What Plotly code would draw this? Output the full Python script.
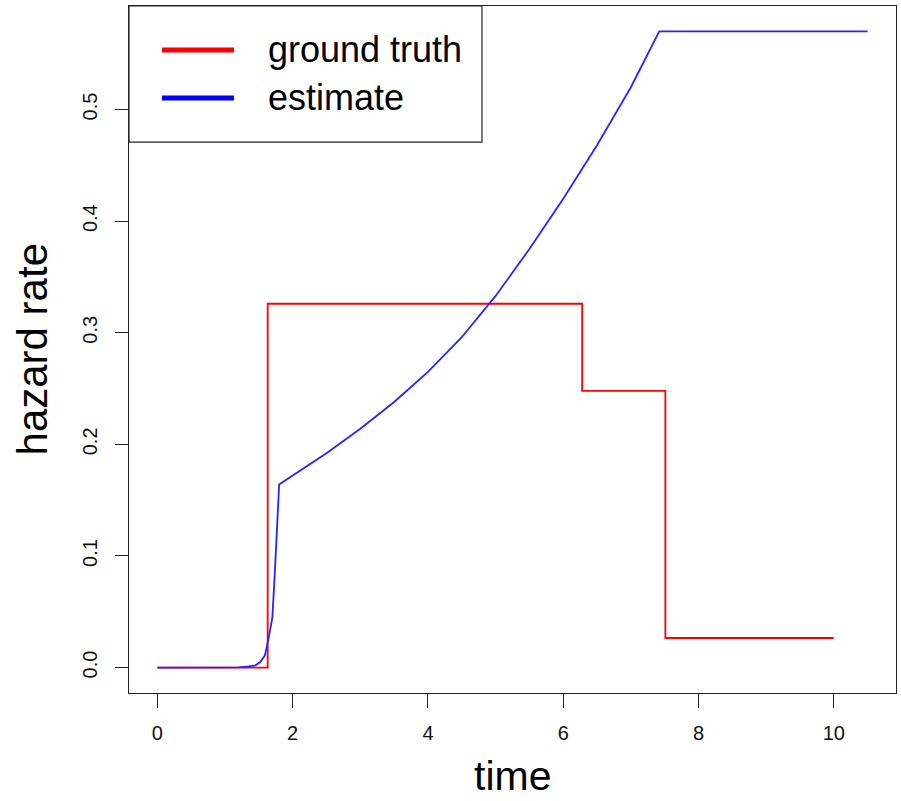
import plotly.graph_objects as go

# ---- data ----
truth_time = [0.0, 1.63, 1.63, 6.28, 6.28, 7.51, 7.51, 10.0]
truth_rate = [0.0, 0.0, 0.326, 0.326, 0.248, 0.248, 0.0265, 0.0265]

est_time = [0.0, 1.0, 1.2, 1.35, 1.45, 1.52, 1.59, 1.64, 1.70, 1.74, 1.77, 1.80,
            2.0, 2.5, 3.0, 3.5, 4.0, 4.5, 5.0, 5.5, 6.0, 6.5, 7.0, 7.42, 10.5]
est_rate = [0.0, 0.0, 0.0002, 0.001, 0.002, 0.005, 0.011, 0.025, 0.045, 0.09, 0.13, 0.164,
            0.172, 0.192, 0.214, 0.238, 0.265, 0.296, 0.333, 0.375, 0.420, 0.468, 0.520, 0.570, 0.570]

x_ticks = [0, 2, 4, 6, 8, 10]
y_ticks = [0.0, 0.1, 0.2, 0.3, 0.4, 0.5]
y_tick_labels = ["0.0", "0.1", "0.2", "0.3", "0.4", "0.5"]

legend_names = ["ground truth", "estimate"]
colors = ["#ff0000", "#2525ff"]
legend_colors = ["#ff0000", "#0000ff"]

FONT = "Liberation Sans, Arial, Helvetica, sans-serif"

fig = go.Figure()
fig.add_trace(go.Scatter(x=truth_time, y=truth_rate, mode="lines",
                         line=dict(color=colors[0], width=1.8), name=legend_names[0],
                         showlegend=False))
fig.add_trace(go.Scatter(x=est_time, y=est_rate, mode="lines",
                         line=dict(color=colors[1], width=1.8), name=legend_names[1],
                         showlegend=False))

axis_common = dict(showgrid=False, zeroline=False, showline=True, mirror=True,
                   linecolor="#222222", linewidth=1.2, ticks="outside",
                   tickcolor="#222222", tickwidth=1.2,
                   tickfont=dict(family=FONT, size=20, color="#111111"))

fig.update_xaxes(range=[-0.42, 10.92], tickvals=x_ticks, ticklen=14,
                 ticklabelstandoff=8, **axis_common)
fig.update_yaxes(range=[-0.0228, 0.5928], tickvals=y_ticks, ticktext=y_tick_labels,
                 ticklen=13, tickangle=-90, ticklabelstandoff=10, **axis_common)

# custom legend (R style)
shapes = [dict(type="rect", xref="paper", yref="paper", x0=0, x1=0.4602, y0=0.802, y1=1.0,
               line=dict(color="#222222", width=1.2), fillcolor="white", layer="above")]
legend_y = [0.936, 0.8661]
annotations = []
for name, col, yy in zip(legend_names, legend_colors, legend_y):
    shapes.append(dict(type="line", xref="paper", yref="paper", x0=0.043, x1=0.1369,
                       y0=yy, y1=yy, line=dict(color=col, width=5), layer="above"))
    annotations.append(dict(xref="paper", yref="paper", x=0.1786, y=yy, text=name,
                            showarrow=False, xanchor="left", yanchor="middle",
                            font=dict(family=FONT, size=36, color="black")))

annotations.append(dict(xref="paper", yref="paper", x=0.5, y=-0.1205, text="time",
                        showarrow=False, xanchor="center", yanchor="middle",
                        font=dict(family=FONT, size=41, color="black")))
annotations.append(dict(xref="paper", yref="paper", x=-0.1252, y=0.5, text="hazard rate",
                        showarrow=False, xanchor="center", yanchor="middle", textangle=-90,
                        font=dict(family=FONT, size=42, color="black")))

fig.update_layout(width=901, height=801, margin=dict(l=129, r=5, t=6, b=108),
                  paper_bgcolor="white", plot_bgcolor="white",
                  shapes=shapes, annotations=annotations, showlegend=False)

fig.write_html("out.html")
